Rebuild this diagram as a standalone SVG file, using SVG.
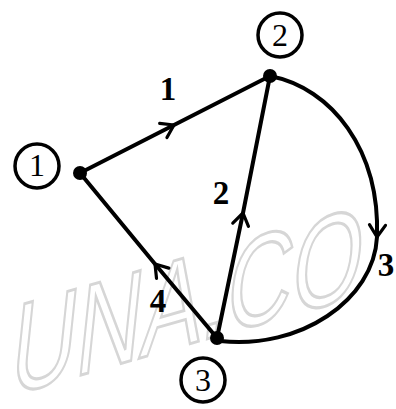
<svg xmlns="http://www.w3.org/2000/svg" width="396" height="409" viewBox="0 0 396 409">
<defs>
<style>
.edge{fill:none;stroke:#000;stroke-width:4;stroke-linecap:round;marker-mid:url(#chev)}
.dot{fill:#000}
.ring{fill:#fff;stroke:#000;stroke-width:3.5}
.num{font-family:"Liberation Serif","Times New Roman",serif;font-size:32px;fill:#000;text-anchor:middle;dominant-baseline:central}
.lbl{font-family:"Liberation Serif","Times New Roman",serif;font-size:33px;font-weight:bold;fill:#000;text-anchor:middle;dominant-baseline:central}
.wm{font-family:"Liberation Sans",Arial,sans-serif;font-size:94px;fill:none;stroke:#d6d6d6;stroke-width:2.2}
</style>
<marker id="chev" viewBox="-16 -10 20 20" markerWidth="20" markerHeight="20" refX="0" refY="0" orient="auto" markerUnits="userSpaceOnUse">
<path d="M-12,-8 L0,0 L-12,8" fill="none" stroke="#000" stroke-width="3.2" stroke-linecap="round" stroke-linejoin="round"/>
</marker>
</defs>
<rect width="396" height="409" fill="#fff"/>
<text class="wm" transform="translate(8,396) rotate(-16) skewX(-22) scale(1,1.3)">UNA.CO</text>
<g id="connectors">
<path id="e1" class="edge" d="M80,173 L174,125 L270,76"/>
<path id="e2" class="edge" d="M217,338 L243,213 L270,76"/>
<path id="e3" class="edge" d="M270,76 C332,88 380,150 377,237 C374,300 300,350 220,341"/>
<path id="e4" class="edge" d="M217,338 L155,264 L80,173"/>
<text class="lbl" x="168" y="89">1</text>
<text class="lbl" x="221" y="193">2</text>
<text class="lbl" x="386" y="265">3</text>
<text class="lbl" x="158" y="301">4</text>
</g>
<g id="node1">
<circle class="dot" cx="80" cy="173" r="7"/>
<circle class="ring" cx="37" cy="166" r="22"/>
<text class="num" x="37" y="165">1</text>
</g>
<g id="node2">
<circle class="dot" cx="270" cy="76" r="7"/>
<circle class="ring" cx="280" cy="35" r="22"/>
<text class="num" x="280" y="35">2</text>
</g>
<g id="node3">
<circle class="dot" cx="217" cy="338" r="7"/>
<circle class="ring" cx="203" cy="380" r="22"/>
<text class="num" x="203" y="380">3</text>
</g>
</svg>
